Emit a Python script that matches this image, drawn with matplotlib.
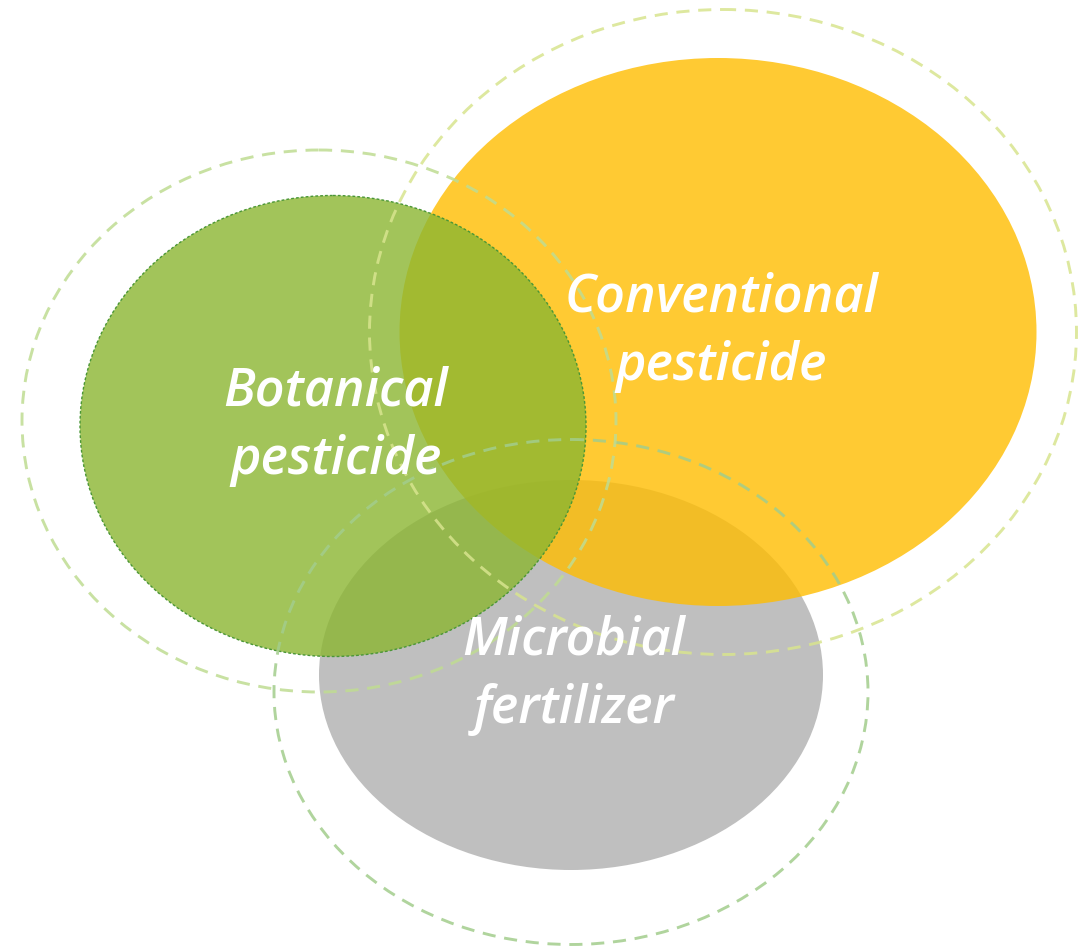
import matplotlib
matplotlib.use('Agg')
import matplotlib.pyplot as plt
from matplotlib.patches import Ellipse

# the three groups (drawn bottom to top)
labels = ['Microbial\nfertilizer', 'Conventional\npesticide', 'Botanical\npesticide']
centers = [(571, 675), (718, 332), (333, 426)]
widths = [504, 637, 506]
heights = [390, 548, 461]
fills = ['#BFBFBF', '#FFBD00', '#8BB631']
alphas = [1.0, 0.8, 0.8]

# dashed outer rings
ring_centers = [(571, 692), (723, 332), (319, 421)]
ring_widths = [594, 707, 594]
ring_heights = [505, 645, 542]
ring_colors = ['#A2CD8C', '#D8E48E', '#BFDC92']

fig = plt.figure(figsize=(10.87, 9.5), dpi=100)
ax = fig.add_axes([0, 0, 1, 1])
ax.set_xlim(0, 1087)
ax.set_ylim(950, 0)
ax.set_aspect('equal')
ax.axis('off')

for i in range(3):
    e = Ellipse(centers[i], widths[i], heights[i], facecolor=fills[i],
                alpha=alphas[i], edgecolor='none', zorder=1 + i)
    ax.add_patch(e)

# thin dotted edge on the botanical ellipse
ax.add_patch(Ellipse(centers[2], widths[2], heights[2], facecolor='none',
                     edgecolor='#4A9636', lw=1.0, linestyle=(0, (2, 1.5)), zorder=4))

for i in range(3):
    r = Ellipse(ring_centers[i], ring_widths[i], ring_heights[i], facecolor='none',
                edgecolor=ring_colors[i], lw=2.1, alpha=0.85,
                linestyle=(0, (4.5, 3)), zorder=5)
    ax.add_patch(r)

for i in range(3):
    ax.text(centers[i][0] + 3, centers[i][1], labels[i], color='white',
            fontsize=37.5, fontstyle='italic', fontweight='semibold',
            family=['Open Sans', 'DejaVu Sans'], ha='center', va='center',
            linespacing=1.38, zorder=6)

fig.savefig('out.png', dpi=100)
